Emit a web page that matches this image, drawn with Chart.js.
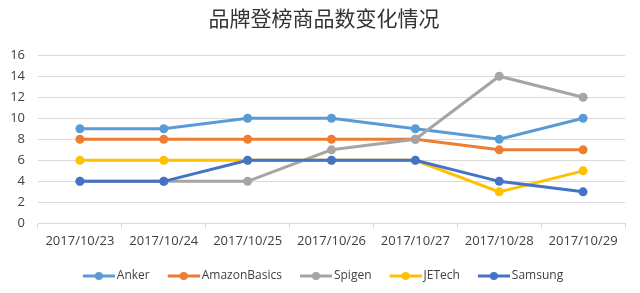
<!DOCTYPE html>
<html>
<head>
<meta charset="utf-8">
<script src="https://cdn.jsdelivr.net/npm/chart.js@4"></script>
<style>
  html, body { margin: 0; padding: 0; background: #fff; }
  #wrap { width: 640px; height: 293px; }
</style>
</head>
<body>
<div id="wrap"><canvas id="brandChart" width="640" height="293"></canvas></div>
<script>
// 日期
const dates = ['2017/10/23', '2017/10/24', '2017/10/25', '2017/10/26', '2017/10/27', '2017/10/28', '2017/10/29'];

// 各品牌登榜商品数
const anker = [9, 9, 10, 10, 9, 8, 10];
const amazonBasics = [8, 8, 8, 8, 8, 7, 7];
const spigen = [4, 4, 4, 7, 8, 14, 12];
const jetech = [6, 6, 6, 6, 6, 3, 5];
const samsung = [4, 4, 6, 6, 6, 4, 3];

const brandNames = ['Anker', 'AmazonBasics', 'Spigen', 'JETech', 'Samsung'];
const brandColors = ['#5B9BD5', '#ED7D31', '#A5A5A5', '#FFC000', '#4472C4'];

const ICON_BOX = 38;   // 图例图标占位宽度
// 图例用的小图标：线 + 圆点（画在画布右侧，紧贴文字）
function legendIcon(color) {
    const c = document.createElement('canvas');
    c.width = ICON_BOX + 8;
    c.height = 10;
    const g = c.getContext('2d');
    const x0 = c.width - 32;
    g.strokeStyle = color;
    g.lineWidth = 3;
    g.beginPath();
    g.moveTo(x0, 5);
    g.lineTo(c.width, 5);
    g.stroke();
    g.fillStyle = color;
    g.beginPath();
    g.arc(x0 + 16, 5, 4, 0, Math.PI * 2);
    g.fill();
    return c;
}

const seriesData = [anker, amazonBasics, spigen, jetech, samsung];
const datasets = seriesData.map((d, i) => ({
    label: brandNames[i],
    data: d,
    borderColor: brandColors[i],
    backgroundColor: brandColors[i],
    borderWidth: 3,
    pointRadius: 4.5,
    pointBackgroundColor: brandColors[i],
    pointBorderColor: brandColors[i],
    pointBorderWidth: 0,
    tension: 0,
    fill: false,
    order: seriesData.length - i
}));

const tickFont = { family: '"Open Sans", sans-serif', size: 13 };

// 微调标题和图例的位置
const shiftBoxes = {
    id: 'shiftBoxes',
    afterLayout(chart) {
        const t = chart.titleBlock;
        t.left += 6;
        t.right += 6;
        const lg = chart.legend;
        lg.top += 8;
        lg.bottom += 8;
    }
};

new Chart(document.getElementById('brandChart'), {
    type: 'line',
    data: { labels: dates, datasets: datasets },
    plugins: [shiftBoxes],
    options: {
        responsive: false,
        animation: false,
        layout: { padding: { left: 11, right: 15, top: 4, bottom: 9 } },
        scales: {
            x: {
                offset: true,
                afterFit: function(scale) {
                    // 不让首尾标签把绘图区往里挤
                    scale.paddingLeft = 0;
                    scale.paddingRight = 0;
                },
                grid: {
                    offset: true,
                    drawOnChartArea: false,
                    drawTicks: true,
                    tickLength: 5,
                    color: '#D9D9D9'
                },
                border: { color: '#D9D9D9' },
                ticks: { color: '#404040', font: tickFont, maxRotation: 0, padding: 5 }
            },
            y: {
                min: 0,
                max: 16,
                afterFit: function(scale) {
                    scale.width = 27;
                },
                ticks: { stepSize: 2, color: '#404040', font: tickFont, padding: 13 },
                grid: { color: '#D9D9D9', drawTicks: false },
                border: { display: false }
            }
        },
        plugins: {
            title: {
                display: true,
                text: '品牌登榜商品数变化情况',
                color: '#333333',
                font: { family: '"Noto Sans CJK SC", sans-serif', size: 21, weight: 'normal' },
                padding: { top: 1, bottom: 25 }
            },
            legend: {
                position: 'bottom',
                labels: {
                    usePointStyle: true,
                    pointStyleWidth: ICON_BOX,
                    color: '#404040',
                    font: { family: '"Open Sans", sans-serif', size: 12 },
                    padding: 8,
                    generateLabels: function(chart) {
                        return chart.data.datasets.map((ds, i) => ({
                            text: ds.label,
                            pointStyle: legendIcon(brandColors[i]),
                            fillStyle: brandColors[i],
                            strokeStyle: brandColors[i],
                            lineWidth: 0,
                            hidden: false,
                            datasetIndex: i,
                            fontColor: '#404040'
                        }));
                    }
                }
            },
            tooltip: { enabled: false }
        }
    }
});
</script>
</body>
</html>
